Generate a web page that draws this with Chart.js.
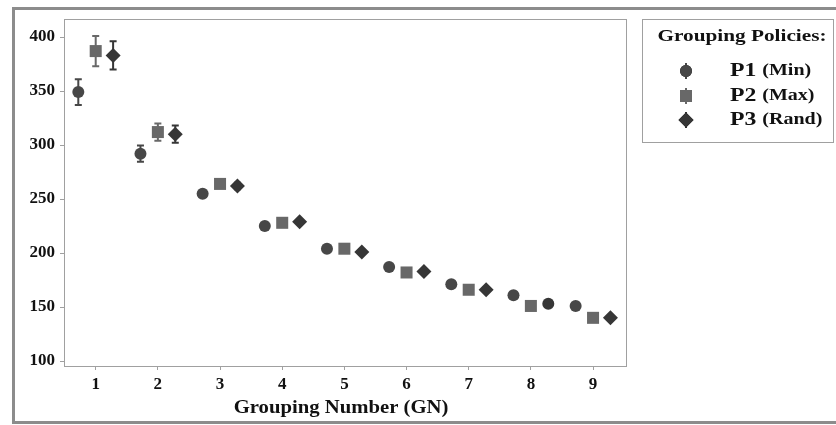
<!DOCTYPE html>
<html>
<head>
<meta charset="utf-8">
<script src="https://cdn.jsdelivr.net/npm/chart.js@4.4.1/dist/chart.umd.min.js"></script>
<style>
  body { margin: 0; background: #fff; }
  #wrap { position: relative; width: 836px; height: 425px; }
</style>
</head>
<body>
<div id="wrap"><canvas id="myChart"></canvas></div>
<script>
// data
const gn = [1, 2, 3, 4, 5, 6, 7, 8, 9];
const p1 = [349, 292, 255, 225, 204, 187, 171, 161, 151];
const p2 = [387, 312, 264, 228, 204, 182, 166, 151, 140];
const p3 = [383, 310, 262, 229, 201, 183, 166, 153, 140];
const p1Err = [12, 7.5, 3, 2, 2, 2, 2, 2, 2];
const p2Err = [14, 8, 3, 2, 2, 2, 2, 2, 2];
const p3Err = [13, 8, 3, 2, 2, 2, 2, 2, 2];
const xTicks = [1, 2, 3, 4, 5, 6, 7, 8, 9];
const yTicks = [100, 150, 200, 250, 300, 350, 400];
const seriesNames = ['P1', 'P2', 'P3'];
const seriesNotes = ['(Min)', '(Max)', '(Rand)'];
const xTitle = 'Grouping Number (GN)';
const legendTitle = 'Grouping Policies:';

const shift = 0.28;
const serif = "'Liberation Serif', 'Times New Roman', serif";
const colors = ['#474747', '#686868', '#363636'];

function points(vals, errs, dx) {
  return gn.map((g, i) => ({ x: g + dx, y: vals[i], err: errs[i] }));
}

// text squeezed wider, the source picture is stretched sideways
function wideText(ctx, text, x, y, sx) {
  ctx.save();
  ctx.translate(x, y);
  ctx.scale(sx, 1);
  ctx.fillText(text, 0, 0);
  ctx.restore();
}

// error bars, drawn under the markers
const errorBars = {
  id: 'errorBars',
  beforeDatasetsDraw(chart) {
    const ctx = chart.ctx;
    const y = chart.scales.y;
    chart.data.datasets.forEach((ds, di) => {
      const meta = chart.getDatasetMeta(di);
      ctx.save();
      ctx.strokeStyle = ds.borderColor;
      ctx.lineWidth = 2;
      meta.data.forEach((pt, i) => {
        const d = ds.data[i];
        const top = y.getPixelForValue(d.y + d.err);
        const bot = y.getPixelForValue(d.y - d.err);
        ctx.beginPath();
        ctx.moveTo(pt.x, top); ctx.lineTo(pt.x, bot);
        ctx.moveTo(pt.x - 3.5, top); ctx.lineTo(pt.x + 3.5, top);
        ctx.moveTo(pt.x - 3.5, bot); ctx.lineTo(pt.x + 3.5, bot);
        ctx.stroke();
      });
      ctx.restore();
    });
  }
};

// outer frame, plot box, axis title and the legend box
const frame = {
  id: 'frame',
  beforeDraw(chart) {
    const ctx = chart.ctx;
    ctx.save();
    ctx.strokeStyle = '#8c8c8c';
    ctx.lineWidth = 3;
    ctx.beginPath();
    ctx.moveTo(840, 8.5); ctx.lineTo(13.5, 8.5); ctx.lineTo(13.5, 422.5); ctx.lineTo(840, 422.5);
    ctx.stroke();
    ctx.restore();
  },
  afterDraw(chart) {
    const ctx = chart.ctx;
    const a = chart.chartArea;
    ctx.save();
    ctx.strokeStyle = '#a0a0a0';
    ctx.lineWidth = 1;
    ctx.strokeRect(a.left + 0.5, a.top + 0.5, a.right - a.left, a.bottom - a.top);

    ctx.fillStyle = '#111';
    ctx.textBaseline = 'middle';
    ctx.textAlign = 'center';
    ctx.font = 'bold 18px ' + serif;
    wideText(ctx, xTitle, 341, 408, 1.15);

    // legend
    ctx.strokeRect(642.5, 19.5, 191, 123);
    ctx.font = 'bold 17px ' + serif;
    wideText(ctx, legendTitle, 742, 37, 1.25);
    const rows = [71, 96, 120];
    chart.data.datasets.forEach((ds, i) => {
      const mx = 686, my = rows[i];
      ctx.strokeStyle = ds.borderColor;
      ctx.lineWidth = 2;
      ctx.beginPath(); ctx.moveTo(mx, my - 8); ctx.lineTo(mx, my + 8); ctx.stroke();
      const style = Array.isArray(ds.pointStyle) ? ds.pointStyle[0] : ds.pointStyle;
      const rad = Array.isArray(ds.pointRadius) ? ds.pointRadius[0] : ds.pointRadius;
      Chart.helpers.drawPoint(ctx, { pointStyle: style, radius: rad, borderWidth: 0 }, mx, my);
      ctx.fillStyle = ds.backgroundColor;
      ctx.fill();
      ctx.fillStyle = '#111';
      ctx.textAlign = 'left';
      ctx.font = 'bold 19px ' + serif;
      wideText(ctx, seriesNames[i], 730, my, 1.25);
      const w = ctx.measureText(seriesNames[i] + ' ').width * 1.25;
      ctx.font = 'bold 16px ' + serif;
      wideText(ctx, seriesNotes[i], 730 + w, my, 1.25);
    });
    ctx.restore();
  }
};

const data = {
  datasets: [
    {
      label: 'P1 (Min)', data: points(p1, p1Err, -shift),
      pointStyle: 'circle', pointRadius: 6,
      backgroundColor: colors[0], borderColor: colors[0]
    },
    {
      label: 'P2 (Max)', data: points(p2, p2Err, 0),
      pointStyle: 'rect', pointRadius: 8.5,
      backgroundColor: colors[1], borderColor: colors[1]
    },
    {
      label: 'P3 (Rand)', data: points(p3, p3Err, shift),
      // the source shows a round marker at GN 8
      pointStyle: ['rectRot', 'rectRot', 'rectRot', 'rectRot', 'rectRot', 'rectRot', 'rectRot', 'circle', 'rectRot'],
      pointRadius: [7.5, 7.5, 7.5, 7.5, 7.5, 7.5, 7.5, 6, 7.5],
      backgroundColor: colors[2], borderColor: colors[2]
    }
  ]
};

const config = {
  type: 'scatter',
  data,
  options: {
    responsive: true,
    maintainAspectRatio: false,
    animation: false,
    layout: { padding: { left: 14, right: 210, top: 19, bottom: 0 } },
    elements: { point: { borderWidth: 0 } },
    plugins: { legend: { display: false }, tooltip: { enabled: false } },
    scales: {
      x: {
        type: 'linear', min: 0.49, max: 9.53,
        afterBuildTicks: s => { s.ticks = xTicks.map(v => ({ value: v })); },
        afterFit: s => { s.height = 59; },
        grid: { drawOnChartArea: false, tickLength: 4, color: '#a0a0a0' },
        border: { color: '#a0a0a0' },
        ticks: { color: '#111', padding: 4, font: { family: serif, size: 17, weight: 'bold' } }
      },
      y: {
        min: 95.4, max: 416.7,
        afterBuildTicks: s => { s.ticks = yTicks.map(v => ({ value: v })); },
        afterFit: s => { s.width = 50; },
        grid: { drawOnChartArea: false, tickLength: 4, color: '#a0a0a0' },
        border: { color: '#a0a0a0' },
        ticks: { color: '#111', padding: 5, font: { family: serif, size: 17, weight: 'bold' } }
      }
    }
  },
  plugins: [errorBars, frame]
};

const myChart = new Chart(document.getElementById('myChart'), config);
</script>
</body>
</html>
